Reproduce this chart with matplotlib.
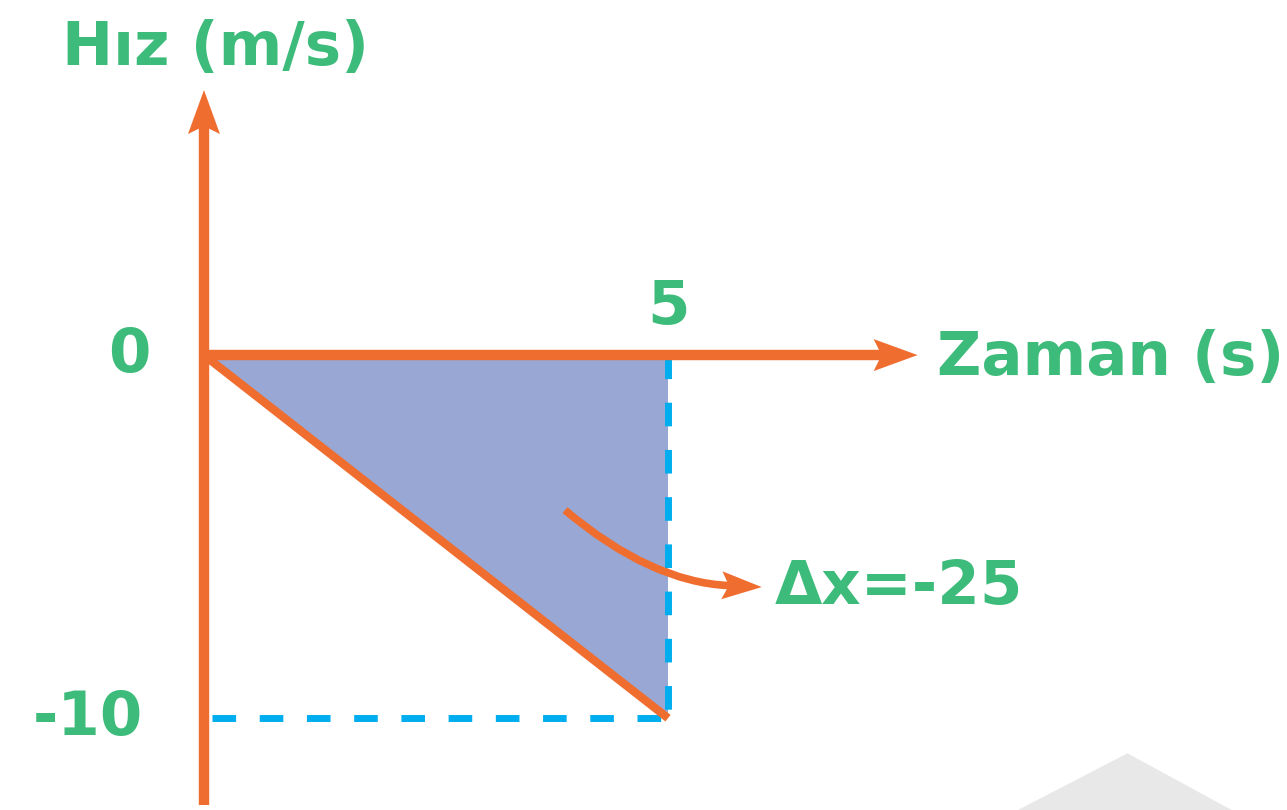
import matplotlib
matplotlib.use("Agg")
import numpy as np
import matplotlib.pyplot as plt
from matplotlib.patches import Polygon, PathPatch
from matplotlib.path import Path

# data
time_s = [0, 5]
velocity = [0, -10]
displacement = -25
x_ticks = [5]
y_ticks = [0, -10]
x_label = "Zaman (s)"
y_label = "Hız (m/s)"

orange = "#F06D30"
green = "#3DBB7A"
blue = "#00AEEF"
fill_col = "#98A7D3"

fig = plt.figure(figsize=(12.87, 8.1), dpi=100)
fig.patch.set_facecolor("white")
ax = fig.add_axes([0, 0, 1, 1])
ax.set_xlim(-2.198, 11.67)
ax.set_ylim(-12.53, 9.78)
ax.axis("off")

# pixels per data unit
p0 = ax.transData.transform((0, 0))
p1 = ax.transData.transform((1, 1))
sx, sy = p1[0] - p0[0], p1[1] - p0[1]


def arrow_head(tip, direction, length, width, color, z):
    # stealth style head, sizes in pixels, tip in data coords
    d = np.array([direction[0] * sx, direction[1] * sy], dtype=float)
    d = d / np.hypot(*d)
    n = np.array([-d[1], d[0]])
    t = np.array([tip[0] * sx, tip[1] * sy])
    pts = [t, t - length * d + width / 2 * n, t - 0.82 * length * d, t - length * d - width / 2 * n]
    pts = [(p[0] / sx, p[1] / sy) for p in pts]
    ax.add_patch(Polygon(pts, closed=True, facecolor=color, edgecolor="none", zorder=z))
    back = t - 0.82 * length * d
    return (back[0] / sx, back[1] / sy)


# grey decoration bottom right
ax.add_patch(Polygon([[0.791, 0.0], [0.876, 0.070], [0.957, 0.0]],
                     closed=True, transform=ax.transAxes,
                     facecolor="#E8E8E8", edgecolor="none", zorder=0))

# shaded area under the line
ax.fill([time_s[0], time_s[1], time_s[1]], [velocity[0], velocity[0], velocity[1]],
        color=fill_col, lw=0, zorder=1)

# dashed guides
ax.plot([time_s[1], time_s[1]], [0, velocity[1]], color=blue, lw=5,
        dashes=(3.4, 3.4), zorder=2)
ax.plot([0.09, time_s[1]], [velocity[1], velocity[1]], color=blue, lw=5,
        dashes=(3.4, 3.4), zorder=2)

# velocity line
ax.plot(time_s, velocity, color=orange, lw=6, solid_capstyle="butt", zorder=3)

# axes with arrows
y_top = 7.3
x_right = 7.69
yb = arrow_head((0, y_top), (0, 1), 44, 32, orange, 4)
ax.plot([0, 0], [-12.4, yb[1]], color=orange, lw=7.5, solid_capstyle="butt", zorder=4)
xb = arrow_head((x_right, 0), (1, 0), 44, 32, orange, 4)
ax.plot([0, xb[0]], [0, 0], color=orange, lw=7.5, solid_capstyle="butt", zorder=4)

# curved arrow to the displacement label (quadratic bezier)
start = np.array([3.89, -4.27])
end = np.array([6.01, -6.39])
sp = np.array([start[0] * sx, start[1] * sy])
ep = np.array([end[0] * sx, end[1] * sy])
rad = 0.17
mid = (sp + ep) / 2
dd = ep - sp
cp = np.array([mid[0] + rad * dd[1], mid[1] - rad * dd[0]])
ctrl = (cp[0] / sx, cp[1] / sy)
cb = arrow_head(tuple(end), ((ep - cp)[0] / sx, (ep - cp)[1] / sy), 40, 28, orange, 5)
curve = Path([tuple(start), ctrl, cb], [Path.MOVETO, Path.CURVE3, Path.CURVE3])
ax.add_patch(PathPatch(curve, facecolor="none", edgecolor=orange, lw=5.5,
                       capstyle="butt", zorder=5))

# labels
fs = 44
kw = dict(color=green, fontsize=fs, fontweight="bold", va="center")
ax.text(0.12, 8.45, y_label, ha="center", **kw)
ax.text(7.9, -0.1, x_label, ha="left", **kw)
ax.text(x_ticks[0], 1.3, str(x_ticks[0]), ha="center", **kw)
ax.text(-0.58, y_ticks[0], str(y_ticks[0]), ha="right", **kw)
ax.text(-0.66, y_ticks[1], str(y_ticks[1]), ha="right", **kw)
ax.text(6.15, -6.4, f"Δx={displacement}", ha="left", **kw)

fig.savefig("out.png", dpi=100)
